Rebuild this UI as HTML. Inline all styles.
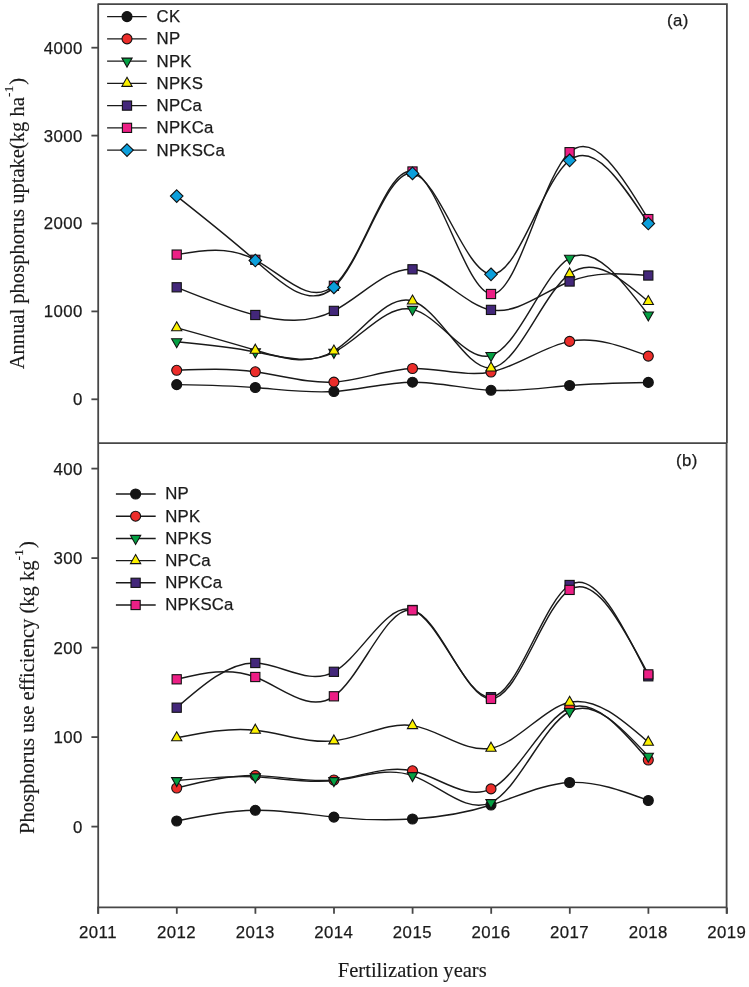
<!DOCTYPE html>
<html><head><meta charset="utf-8"><style>
html,body{margin:0;padding:0;background:#fff;}
body{width:749px;height:987px;overflow:hidden;}
svg{display:block;}
text{filter:grayscale(1);}
.tk,.lg{stroke:#1a1a1a;stroke-width:0.25px;}
.ti{stroke:#1a1a1a;stroke-width:0.15px;}
.tk{font-family:"Liberation Sans",sans-serif;font-size:16.8px;fill:#1a1a1a;letter-spacing:0.45px;}
.lg{font-family:"Liberation Sans",sans-serif;font-size:16.8px;fill:#1a1a1a;letter-spacing:0.2px;}
.ti{font-family:"Liberation Serif",serif;font-size:20.55px;fill:#1a1a1a;}
</style></head><body>
<svg width="749" height="987" viewBox="0 0 749 987">
<rect width="749" height="987" fill="#fff"/>
<path d="M98.2 4.2H726.9V443.2M98.2 443.2H726.9" fill="none" stroke="#474747" stroke-width="1.8"/>
<path d="M98.2 3.4V913.8" fill="none" stroke="#474747" stroke-width="1.8"/>
<path d="M726.6 443.2V913.8M97.4 907.4H727.4" fill="none" stroke="#474747" stroke-width="1.8"/>
<line x1="91.4" y1="399.3" x2="98.2" y2="399.3" stroke="#474747" stroke-width="1.8"/>
<text x="82.8" y="405.2" class="tk" text-anchor="end">0</text>
<line x1="91.4" y1="311.4" x2="98.2" y2="311.4" stroke="#474747" stroke-width="1.8"/>
<text x="82.8" y="317.3" class="tk" text-anchor="end">1000</text>
<line x1="91.4" y1="223.5" x2="98.2" y2="223.5" stroke="#474747" stroke-width="1.8"/>
<text x="82.8" y="229.4" class="tk" text-anchor="end">2000</text>
<line x1="91.4" y1="135.6" x2="98.2" y2="135.6" stroke="#474747" stroke-width="1.8"/>
<text x="82.8" y="141.5" class="tk" text-anchor="end">3000</text>
<line x1="91.4" y1="47.7" x2="98.2" y2="47.7" stroke="#474747" stroke-width="1.8"/>
<text x="82.8" y="53.6" class="tk" text-anchor="end">4000</text>
<line x1="91.4" y1="826.6" x2="98.2" y2="826.6" stroke="#474747" stroke-width="1.8"/>
<text x="82.8" y="832.5" class="tk" text-anchor="end">0</text>
<line x1="91.4" y1="737.1" x2="98.2" y2="737.1" stroke="#474747" stroke-width="1.8"/>
<text x="82.8" y="743" class="tk" text-anchor="end">100</text>
<line x1="91.4" y1="647.6" x2="98.2" y2="647.6" stroke="#474747" stroke-width="1.8"/>
<text x="82.8" y="653.5" class="tk" text-anchor="end">200</text>
<line x1="91.4" y1="558.1" x2="98.2" y2="558.1" stroke="#474747" stroke-width="1.8"/>
<text x="82.8" y="564" class="tk" text-anchor="end">300</text>
<line x1="91.4" y1="468.6" x2="98.2" y2="468.6" stroke="#474747" stroke-width="1.8"/>
<text x="82.8" y="474.5" class="tk" text-anchor="end">400</text>
<line x1="98.2" y1="907.4" x2="98.2" y2="913.8" stroke="#474747" stroke-width="1.8"/>
<text x="98" y="938.2" class="tk" text-anchor="middle">2011</text>
<line x1="176.8" y1="907.4" x2="176.8" y2="913.8" stroke="#474747" stroke-width="1.8"/>
<text x="176.6" y="938.2" class="tk" text-anchor="middle">2012</text>
<line x1="255.4" y1="907.4" x2="255.4" y2="913.8" stroke="#474747" stroke-width="1.8"/>
<text x="255.2" y="938.2" class="tk" text-anchor="middle">2013</text>
<line x1="334" y1="907.4" x2="334" y2="913.8" stroke="#474747" stroke-width="1.8"/>
<text x="333.8" y="938.2" class="tk" text-anchor="middle">2014</text>
<line x1="412.6" y1="907.4" x2="412.6" y2="913.8" stroke="#474747" stroke-width="1.8"/>
<text x="412.4" y="938.2" class="tk" text-anchor="middle">2015</text>
<line x1="491.2" y1="907.4" x2="491.2" y2="913.8" stroke="#474747" stroke-width="1.8"/>
<text x="491" y="938.2" class="tk" text-anchor="middle">2016</text>
<line x1="569.8" y1="907.4" x2="569.8" y2="913.8" stroke="#474747" stroke-width="1.8"/>
<text x="569.6" y="938.2" class="tk" text-anchor="middle">2017</text>
<line x1="648.4" y1="907.4" x2="648.4" y2="913.8" stroke="#474747" stroke-width="1.8"/>
<text x="648.2" y="938.2" class="tk" text-anchor="middle">2018</text>
<line x1="727" y1="907.4" x2="727" y2="913.8" stroke="#474747" stroke-width="1.8"/>
<text x="726.8" y="938.2" class="tk" text-anchor="middle">2019</text>
<text x="667" y="26" class="tk">(a)</text>
<text x="676" y="466" class="tk">(b)</text>
<text x="337.8" y="976.6" class="ti">Fertilization years</text>
<text transform="translate(23.9 369.3) rotate(-90)" class="ti">Annual phosphorus uptake(kg ha<tspan dy="-11" font-size="13.5">-1</tspan><tspan dy="11" dx="1.2">)</tspan></text>
<text transform="translate(33.6 834) rotate(-90)" class="ti">Phosphorus use efficiency (kg kg<tspan dy="-11" font-size="13.5">-1</tspan><tspan dy="11" dx="1.2">)</tspan></text>
<path d="M176.7 384.6C202.9 385.02 229.1 385.43 255.3 387.5C281.51 389.57 307.71 393.29 333.9 391.5C360.11 389.71 386.31 382.41 412.5 382.2C438.66 381.99 464.82 388.87 491 390.3C517.19 391.73 543.39 387.72 569.6 385.5C595.83 383.27 622.06 382.84 648.3 382.4" fill="none" stroke="#1a1a1a" stroke-width="1.45"/>
<circle cx="176.7" cy="384.6" r="5.0" fill="#141414" stroke="#111" stroke-width="1.1"/>
<circle cx="255.3" cy="387.5" r="5.0" fill="#141414" stroke="#111" stroke-width="1.1"/>
<circle cx="333.9" cy="391.5" r="5.0" fill="#141414" stroke="#111" stroke-width="1.1"/>
<circle cx="412.5" cy="382.2" r="5.0" fill="#141414" stroke="#111" stroke-width="1.1"/>
<circle cx="491" cy="390.3" r="5.0" fill="#141414" stroke="#111" stroke-width="1.1"/>
<circle cx="569.6" cy="385.5" r="5.0" fill="#141414" stroke="#111" stroke-width="1.1"/>
<circle cx="648.3" cy="382.4" r="5.0" fill="#141414" stroke="#111" stroke-width="1.1"/>
<path d="M176.7 370.3C202.91 369.26 229.11 368.22 255.3 371.8C281.53 375.38 307.74 383.6 333.9 382.1C360.09 380.6 386.22 369.35 412.5 368.5C438.69 367.66 465.03 377.14 491 372C517.35 366.78 543.32 346.49 569.6 341.4C595.63 336.36 621.96 346.23 648.3 356.1" fill="none" stroke="#1a1a1a" stroke-width="1.45"/>
<circle cx="176.7" cy="370.3" r="5.0" fill="#ec2d2a" stroke="#111" stroke-width="1.1"/>
<circle cx="255.3" cy="371.8" r="5.0" fill="#ec2d2a" stroke="#111" stroke-width="1.1"/>
<circle cx="333.9" cy="382.1" r="5.0" fill="#ec2d2a" stroke="#111" stroke-width="1.1"/>
<circle cx="412.5" cy="368.5" r="5.0" fill="#ec2d2a" stroke="#111" stroke-width="1.1"/>
<circle cx="491" cy="372" r="5.0" fill="#ec2d2a" stroke="#111" stroke-width="1.1"/>
<circle cx="569.6" cy="341.4" r="5.0" fill="#ec2d2a" stroke="#111" stroke-width="1.1"/>
<circle cx="648.3" cy="356.1" r="5.0" fill="#ec2d2a" stroke="#111" stroke-width="1.1"/>
<path d="M176.7 341.7C202.83 344.16 228.96 346.62 255.3 351.9C281.6 357.17 308.12 365.24 333.9 352.3C360.39 339 386.11 303.53 412.5 309.4C438.98 315.29 466.13 362.78 491 355.5C518.25 347.53 542.77 273.78 569.6 258.2C594.5 243.74 621.4 279.37 648.3 315" fill="none" stroke="#1a1a1a" stroke-width="1.45"/>
<path d="M171.6 338.7L181.8 338.7L176.7 347.7Z" fill="#04a043" stroke="#111" stroke-width="1.1" stroke-linejoin="miter"/>
<path d="M250.2 348.9L260.4 348.9L255.3 357.9Z" fill="#04a043" stroke="#111" stroke-width="1.1" stroke-linejoin="miter"/>
<path d="M328.8 349.3L339 349.3L333.9 358.3Z" fill="#04a043" stroke="#111" stroke-width="1.1" stroke-linejoin="miter"/>
<path d="M407.4 306.4L417.6 306.4L412.5 315.4Z" fill="#04a043" stroke="#111" stroke-width="1.1" stroke-linejoin="miter"/>
<path d="M485.9 352.5L496.1 352.5L491 361.5Z" fill="#04a043" stroke="#111" stroke-width="1.1" stroke-linejoin="miter"/>
<path d="M564.5 255.2L574.7 255.2L569.6 264.2Z" fill="#04a043" stroke="#111" stroke-width="1.1" stroke-linejoin="miter"/>
<path d="M643.2 312L653.4 312L648.3 321Z" fill="#04a043" stroke="#111" stroke-width="1.1" stroke-linejoin="miter"/>
<path d="M176.7 327.8C202.78 335.05 228.87 342.3 255.3 350.2C281.53 358.04 308.11 366.52 333.9 351C360.64 334.91 386.53 293.01 412.5 301C439.15 309.19 465.88 369.89 491 368C517.49 366.01 542.18 294.43 569.6 273.9C594.35 255.37 621.32 278.44 648.3 301.5" fill="none" stroke="#1a1a1a" stroke-width="1.45"/>
<path d="M176.7 321.8L181.8 330.8L171.6 330.8Z" fill="#fbf000" stroke="#111" stroke-width="1.1" stroke-linejoin="miter"/>
<path d="M255.3 344.2L260.4 353.2L250.2 353.2Z" fill="#fbf000" stroke="#111" stroke-width="1.1" stroke-linejoin="miter"/>
<path d="M333.9 345L339 354L328.8 354Z" fill="#fbf000" stroke="#111" stroke-width="1.1" stroke-linejoin="miter"/>
<path d="M412.5 295L417.6 304L407.4 304Z" fill="#fbf000" stroke="#111" stroke-width="1.1" stroke-linejoin="miter"/>
<path d="M491 362L496.1 371L485.9 371Z" fill="#fbf000" stroke="#111" stroke-width="1.1" stroke-linejoin="miter"/>
<path d="M569.6 267.9L574.7 276.9L564.5 276.9Z" fill="#fbf000" stroke="#111" stroke-width="1.1" stroke-linejoin="miter"/>
<path d="M648.3 295.5L653.4 304.5L643.2 304.5Z" fill="#fbf000" stroke="#111" stroke-width="1.1" stroke-linejoin="miter"/>
<path d="M176.7 287.3C202.77 297.87 228.85 308.44 255.3 315C281.46 321.49 307.98 324.05 333.9 310.9C360.48 297.41 386.42 267.4 412.5 269.3C438.52 271.19 464.68 304.86 491 309.9C517.03 314.88 543.22 291.87 569.6 281.5C595.71 271.24 622 273.37 648.3 275.5" fill="none" stroke="#1a1a1a" stroke-width="1.45"/>
<rect x="172.1" y="282.7" width="9.2" height="9.2" fill="#43277a" stroke="#111" stroke-width="1.1"/>
<rect x="250.7" y="310.4" width="9.2" height="9.2" fill="#43277a" stroke="#111" stroke-width="1.1"/>
<rect x="329.3" y="306.3" width="9.2" height="9.2" fill="#43277a" stroke="#111" stroke-width="1.1"/>
<rect x="407.9" y="264.7" width="9.2" height="9.2" fill="#43277a" stroke="#111" stroke-width="1.1"/>
<rect x="486.4" y="305.3" width="9.2" height="9.2" fill="#43277a" stroke="#111" stroke-width="1.1"/>
<rect x="565" y="276.9" width="9.2" height="9.2" fill="#43277a" stroke="#111" stroke-width="1.1"/>
<rect x="643.7" y="270.9" width="9.2" height="9.2" fill="#43277a" stroke="#111" stroke-width="1.1"/>
<path d="M176.7 254.6C202.73 250.22 228.76 245.85 255.3 259.8C282.1 273.89 309.43 306.67 333.9 285.8C362.3 261.58 386.85 165.08 412.5 171.5C438.62 178.04 465.87 291.31 491 294C517.31 296.81 541.28 178.41 569.6 152.2C593.73 129.87 621.02 174.48 648.3 219.1" fill="none" stroke="#1a1a1a" stroke-width="1.45"/>
<rect x="172.1" y="250" width="9.2" height="9.2" fill="#ec1f85" stroke="#111" stroke-width="1.1"/>
<rect x="250.7" y="255.2" width="9.2" height="9.2" fill="#ec1f85" stroke="#111" stroke-width="1.1"/>
<rect x="329.3" y="281.2" width="9.2" height="9.2" fill="#ec1f85" stroke="#111" stroke-width="1.1"/>
<rect x="407.9" y="166.9" width="9.2" height="9.2" fill="#ec1f85" stroke="#111" stroke-width="1.1"/>
<rect x="486.4" y="289.4" width="9.2" height="9.2" fill="#ec1f85" stroke="#111" stroke-width="1.1"/>
<rect x="565" y="147.6" width="9.2" height="9.2" fill="#ec1f85" stroke="#111" stroke-width="1.1"/>
<rect x="643.7" y="214.5" width="9.2" height="9.2" fill="#ec1f85" stroke="#111" stroke-width="1.1"/>
<path d="M176.7 196.1C202.28 216.27 227.86 236.44 255.3 260.5C281.48 283.45 309.35 309.93 333.9 287.4C362.36 261.28 386.35 169.3 412.5 173.4C437.88 177.38 465.28 271.88 491 274.3C517.49 276.79 542.19 181.55 569.6 160.3C594.36 141.1 621.33 182.3 648.3 223.5" fill="none" stroke="#1a1a1a" stroke-width="1.45"/>
<path d="M176.7 189.8L183 196.1L176.7 202.4L170.4 196.1Z" fill="#0c9fdb" stroke="#111" stroke-width="1.1"/>
<path d="M255.3 254.2L261.6 260.5L255.3 266.8L249 260.5Z" fill="#0c9fdb" stroke="#111" stroke-width="1.1"/>
<path d="M333.9 281.1L340.2 287.4L333.9 293.7L327.6 287.4Z" fill="#0c9fdb" stroke="#111" stroke-width="1.1"/>
<path d="M412.5 167.1L418.8 173.4L412.5 179.7L406.2 173.4Z" fill="#0c9fdb" stroke="#111" stroke-width="1.1"/>
<path d="M491 268L497.3 274.3L491 280.6L484.7 274.3Z" fill="#0c9fdb" stroke="#111" stroke-width="1.1"/>
<path d="M569.6 154L575.9 160.3L569.6 166.6L563.3 160.3Z" fill="#0c9fdb" stroke="#111" stroke-width="1.1"/>
<path d="M648.3 217.2L654.6 223.5L648.3 229.8L642 223.5Z" fill="#0c9fdb" stroke="#111" stroke-width="1.1"/>
<line x1="107.1" y1="16.6" x2="146.7" y2="16.6" stroke="#1a1a1a" stroke-width="1.45"/>
<circle cx="127" cy="16.6" r="5.0" fill="#141414" stroke="#111" stroke-width="1.1"/>
<text x="156.6" y="22" class="lg">CK</text>
<line x1="107.1" y1="38.85" x2="146.7" y2="38.85" stroke="#1a1a1a" stroke-width="1.45"/>
<circle cx="127" cy="38.85" r="5.0" fill="#ec2d2a" stroke="#111" stroke-width="1.1"/>
<text x="156.6" y="44.25" class="lg">NP</text>
<line x1="107.1" y1="61.1" x2="146.7" y2="61.1" stroke="#1a1a1a" stroke-width="1.45"/>
<path d="M121.9 58.1L132.1 58.1L127 67.1Z" fill="#04a043" stroke="#111" stroke-width="1.1" stroke-linejoin="miter"/>
<text x="156.6" y="66.5" class="lg">NPK</text>
<line x1="107.1" y1="83.35" x2="146.7" y2="83.35" stroke="#1a1a1a" stroke-width="1.45"/>
<path d="M127 77.35L132.1 86.35L121.9 86.35Z" fill="#fbf000" stroke="#111" stroke-width="1.1" stroke-linejoin="miter"/>
<text x="156.6" y="88.75" class="lg">NPKS</text>
<line x1="107.1" y1="105.6" x2="146.7" y2="105.6" stroke="#1a1a1a" stroke-width="1.45"/>
<rect x="122.4" y="101" width="9.2" height="9.2" fill="#43277a" stroke="#111" stroke-width="1.1"/>
<text x="156.6" y="111" class="lg">NPCa</text>
<line x1="107.1" y1="127.85" x2="146.7" y2="127.85" stroke="#1a1a1a" stroke-width="1.45"/>
<rect x="122.4" y="123.25" width="9.2" height="9.2" fill="#ec1f85" stroke="#111" stroke-width="1.1"/>
<text x="156.6" y="133.25" class="lg">NPKCa</text>
<line x1="107.1" y1="150.1" x2="146.7" y2="150.1" stroke="#1a1a1a" stroke-width="1.45"/>
<path d="M127 143.8L133.3 150.1L127 156.4L120.7 150.1Z" fill="#0c9fdb" stroke="#111" stroke-width="1.1"/>
<text x="156.6" y="155.5" class="lg">NPKSCa</text>
<path d="M176.7 821C202.89 815.82 229.09 810.64 255.3 810.3C281.48 809.96 307.68 814.44 333.9 817.1C360.1 819.76 386.32 820.61 412.5 819C438.73 817.39 464.91 813.32 491 805C517.24 796.63 543.38 783.96 569.6 782.5C595.78 781.05 622.04 790.77 648.3 800.5" fill="none" stroke="#1a1a1a" stroke-width="1.45"/>
<circle cx="176.7" cy="821" r="5.0" fill="#141414" stroke="#111" stroke-width="1.1"/>
<circle cx="255.3" cy="810.3" r="5.0" fill="#141414" stroke="#111" stroke-width="1.1"/>
<circle cx="333.9" cy="817.1" r="5.0" fill="#141414" stroke="#111" stroke-width="1.1"/>
<circle cx="412.5" cy="819" r="5.0" fill="#141414" stroke="#111" stroke-width="1.1"/>
<circle cx="491" cy="805" r="5.0" fill="#141414" stroke="#111" stroke-width="1.1"/>
<circle cx="569.6" cy="782.5" r="5.0" fill="#141414" stroke="#111" stroke-width="1.1"/>
<circle cx="648.3" cy="800.5" r="5.0" fill="#141414" stroke="#111" stroke-width="1.1"/>
<path d="M176.7 788C202.87 781.66 229.05 775.32 255.3 775.6C281.5 775.88 307.77 782.75 333.9 780C360.05 777.25 386.05 764.86 412.5 770.8C439.02 776.76 465.99 801.15 491 788.9C518.21 775.57 543.09 718.89 569.6 708C594.86 697.62 621.58 728.81 648.3 760" fill="none" stroke="#1a1a1a" stroke-width="1.45"/>
<circle cx="176.7" cy="788" r="5.0" fill="#ec2d2a" stroke="#111" stroke-width="1.1"/>
<circle cx="255.3" cy="775.6" r="5.0" fill="#ec2d2a" stroke="#111" stroke-width="1.1"/>
<circle cx="333.9" cy="780" r="5.0" fill="#ec2d2a" stroke="#111" stroke-width="1.1"/>
<circle cx="412.5" cy="770.8" r="5.0" fill="#ec2d2a" stroke="#111" stroke-width="1.1"/>
<circle cx="491" cy="788.9" r="5.0" fill="#ec2d2a" stroke="#111" stroke-width="1.1"/>
<circle cx="569.6" cy="708" r="5.0" fill="#ec2d2a" stroke="#111" stroke-width="1.1"/>
<circle cx="648.3" cy="760" r="5.0" fill="#ec2d2a" stroke="#111" stroke-width="1.1"/>
<path d="M176.7 780.6C202.89 778.07 229.08 775.53 255.3 776.9C281.52 778.27 307.76 783.53 333.9 780.6C360.04 777.67 386.07 766.55 412.5 775.6C439.18 784.74 466.27 814.45 491 802.6C518.3 789.52 542.73 725.82 569.6 711.5C594.44 698.26 621.37 727.23 648.3 756.2" fill="none" stroke="#1a1a1a" stroke-width="1.45"/>
<path d="M171.6 777.6L181.8 777.6L176.7 786.6Z" fill="#04a043" stroke="#111" stroke-width="1.1" stroke-linejoin="miter"/>
<path d="M250.2 773.9L260.4 773.9L255.3 782.9Z" fill="#04a043" stroke="#111" stroke-width="1.1" stroke-linejoin="miter"/>
<path d="M328.8 777.6L339 777.6L333.9 786.6Z" fill="#04a043" stroke="#111" stroke-width="1.1" stroke-linejoin="miter"/>
<path d="M407.4 772.6L417.6 772.6L412.5 781.6Z" fill="#04a043" stroke="#111" stroke-width="1.1" stroke-linejoin="miter"/>
<path d="M485.9 799.6L496.1 799.6L491 808.6Z" fill="#04a043" stroke="#111" stroke-width="1.1" stroke-linejoin="miter"/>
<path d="M564.5 708.5L574.7 708.5L569.6 717.5Z" fill="#04a043" stroke="#111" stroke-width="1.1" stroke-linejoin="miter"/>
<path d="M643.2 753.2L653.4 753.2L648.3 762.2Z" fill="#04a043" stroke="#111" stroke-width="1.1" stroke-linejoin="miter"/>
<path d="M176.7 737.8C202.9 732.62 229.1 727.45 255.3 730.2C281.52 732.95 307.73 743.65 333.9 740.9C360.11 738.15 386.28 721.91 412.5 725.6C438.8 729.3 465.16 753.07 491 748.2C517.47 743.22 543.39 708.2 569.6 702.3C595.64 696.44 621.97 719.32 648.3 742.2" fill="none" stroke="#1a1a1a" stroke-width="1.45"/>
<path d="M176.7 731.8L181.8 740.8L171.6 740.8Z" fill="#fbf000" stroke="#111" stroke-width="1.1" stroke-linejoin="miter"/>
<path d="M255.3 724.2L260.4 733.2L250.2 733.2Z" fill="#fbf000" stroke="#111" stroke-width="1.1" stroke-linejoin="miter"/>
<path d="M333.9 734.9L339 743.9L328.8 743.9Z" fill="#fbf000" stroke="#111" stroke-width="1.1" stroke-linejoin="miter"/>
<path d="M412.5 719.6L417.6 728.6L407.4 728.6Z" fill="#fbf000" stroke="#111" stroke-width="1.1" stroke-linejoin="miter"/>
<path d="M491 742.2L496.1 751.2L485.9 751.2Z" fill="#fbf000" stroke="#111" stroke-width="1.1" stroke-linejoin="miter"/>
<path d="M569.6 696.3L574.7 705.3L564.5 705.3Z" fill="#fbf000" stroke="#111" stroke-width="1.1" stroke-linejoin="miter"/>
<path d="M648.3 736.2L653.4 745.2L643.2 745.2Z" fill="#fbf000" stroke="#111" stroke-width="1.1" stroke-linejoin="miter"/>
<path d="M176.7 707.7C202.62 685.07 228.53 662.45 255.3 663C281.33 663.53 308.17 685.98 333.9 671.8C361.02 656.85 386.91 601.19 412.5 610C439.29 619.22 465.75 699.12 491 697.2C517.67 695.17 542.99 601.88 569.6 585C595.05 568.85 621.67 622.58 648.3 676.3" fill="none" stroke="#1a1a1a" stroke-width="1.45"/>
<rect x="172.1" y="703.1" width="9.2" height="9.2" fill="#43277a" stroke="#111" stroke-width="1.1"/>
<rect x="250.7" y="658.4" width="9.2" height="9.2" fill="#43277a" stroke="#111" stroke-width="1.1"/>
<rect x="329.3" y="667.2" width="9.2" height="9.2" fill="#43277a" stroke="#111" stroke-width="1.1"/>
<rect x="407.9" y="605.4" width="9.2" height="9.2" fill="#43277a" stroke="#111" stroke-width="1.1"/>
<rect x="486.4" y="692.6" width="9.2" height="9.2" fill="#43277a" stroke="#111" stroke-width="1.1"/>
<rect x="565" y="580.4" width="9.2" height="9.2" fill="#43277a" stroke="#111" stroke-width="1.1"/>
<rect x="643.7" y="671.7" width="9.2" height="9.2" fill="#43277a" stroke="#111" stroke-width="1.1"/>
<path d="M176.7 679.3C202.78 673.11 228.85 666.91 255.3 677C281.89 687.14 308.86 713.75 333.9 696.3C361.37 677.16 386.54 605.02 412.5 610.3C438.58 615.61 465.47 699.05 491 698.9C517.7 698.75 542.91 607.23 569.6 589.9C594.95 573.43 621.63 623.92 648.3 674.4" fill="none" stroke="#1a1a1a" stroke-width="1.45"/>
<rect x="172.1" y="674.7" width="9.2" height="9.2" fill="#ec1f85" stroke="#111" stroke-width="1.1"/>
<rect x="250.7" y="672.4" width="9.2" height="9.2" fill="#ec1f85" stroke="#111" stroke-width="1.1"/>
<rect x="329.3" y="691.7" width="9.2" height="9.2" fill="#ec1f85" stroke="#111" stroke-width="1.1"/>
<rect x="407.9" y="605.7" width="9.2" height="9.2" fill="#ec1f85" stroke="#111" stroke-width="1.1"/>
<rect x="486.4" y="694.3" width="9.2" height="9.2" fill="#ec1f85" stroke="#111" stroke-width="1.1"/>
<rect x="565" y="585.3" width="9.2" height="9.2" fill="#ec1f85" stroke="#111" stroke-width="1.1"/>
<rect x="643.7" y="669.8" width="9.2" height="9.2" fill="#ec1f85" stroke="#111" stroke-width="1.1"/>
<line x1="115.9" y1="494" x2="155.7" y2="494" stroke="#1a1a1a" stroke-width="1.45"/>
<circle cx="135.6" cy="494" r="5.0" fill="#141414" stroke="#111" stroke-width="1.1"/>
<text x="165.3" y="499.4" class="lg">NP</text>
<line x1="115.9" y1="516.2" x2="155.7" y2="516.2" stroke="#1a1a1a" stroke-width="1.45"/>
<circle cx="135.6" cy="516.2" r="5.0" fill="#ec2d2a" stroke="#111" stroke-width="1.1"/>
<text x="165.3" y="521.6" class="lg">NPK</text>
<line x1="115.9" y1="538.4" x2="155.7" y2="538.4" stroke="#1a1a1a" stroke-width="1.45"/>
<path d="M130.5 535.4L140.7 535.4L135.6 544.4Z" fill="#04a043" stroke="#111" stroke-width="1.1" stroke-linejoin="miter"/>
<text x="165.3" y="543.8" class="lg">NPKS</text>
<line x1="115.9" y1="560.6" x2="155.7" y2="560.6" stroke="#1a1a1a" stroke-width="1.45"/>
<path d="M135.6 554.6L140.7 563.6L130.5 563.6Z" fill="#fbf000" stroke="#111" stroke-width="1.1" stroke-linejoin="miter"/>
<text x="165.3" y="566" class="lg">NPCa</text>
<line x1="115.9" y1="582.8" x2="155.7" y2="582.8" stroke="#1a1a1a" stroke-width="1.45"/>
<rect x="131" y="578.2" width="9.2" height="9.2" fill="#43277a" stroke="#111" stroke-width="1.1"/>
<text x="165.3" y="588.2" class="lg">NPKCa</text>
<line x1="115.9" y1="605" x2="155.7" y2="605" stroke="#1a1a1a" stroke-width="1.45"/>
<rect x="131" y="600.4" width="9.2" height="9.2" fill="#ec1f85" stroke="#111" stroke-width="1.1"/>
<text x="165.3" y="610.4" class="lg">NPKSCa</text>
</svg>
</body></html>
